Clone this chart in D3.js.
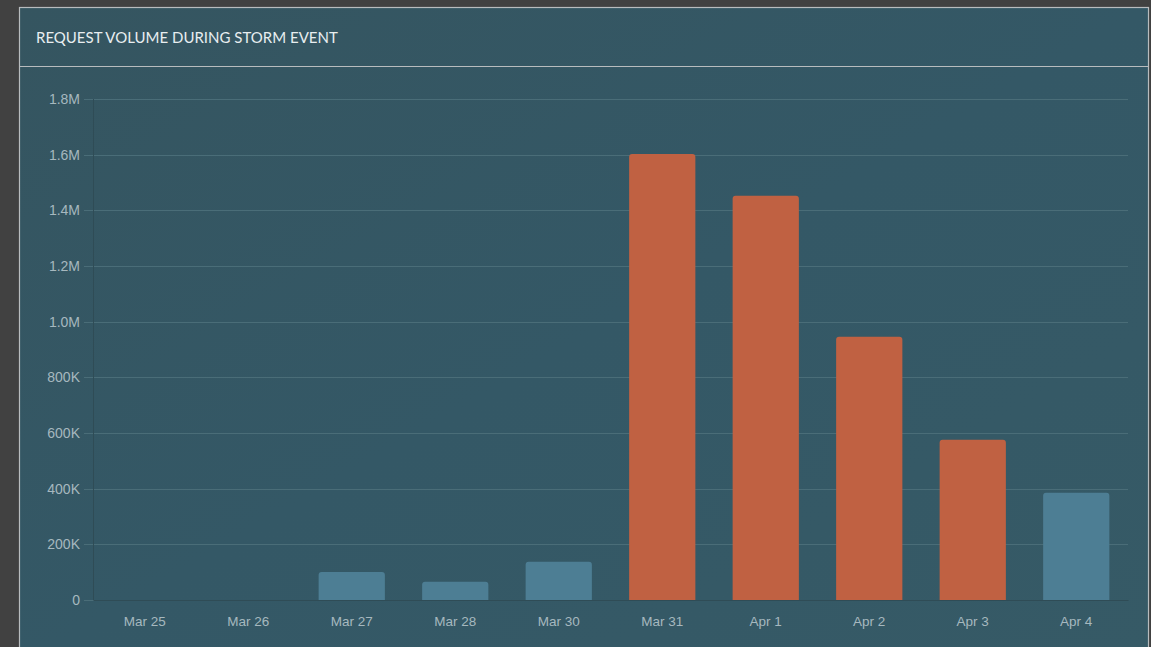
<!DOCTYPE html>
<html>
<head>
<meta charset="utf-8">
<script src="https://cdn.jsdelivr.net/npm/d3@7"></script>
<style>
html,body{margin:0;padding:0;background:#414141;overflow:hidden;}
svg{display:block;}
</style>
</head>
<body>
<svg id="chart" width="1151" height="647"></svg>
<script>
const categories = ["Mar 25","Mar 26","Mar 27","Mar 28","Mar 30","Mar 31","Apr 1","Apr 2","Apr 3","Apr 4"];
const values = [0, 0, 101000, 66000, 137000, 1602000, 1452000, 946000, 576000, 385000];
const highlight = [false,false,false,false,false,true,true,true,true,false];
const yTicks = [0,200000,400000,600000,800000,1000000,1200000,1400000,1600000,1800000];
const yTickLabels = ["0","200K","400K","600K","800K","1.0M","1.2M","1.4M","1.6M","1.8M"];
const title = "REQUEST VOLUME DURING STORM EVENT";

(function(){
const svg = d3.select("#chart");
const defs = svg.append("defs");
const grad = defs.append("linearGradient").attr("id","bg").attr("x1","0").attr("y1","0").attr("x2","1").attr("y2","1");
grad.append("stop").attr("offset","0").attr("stop-color","#355560");
grad.append("stop").attr("offset","0.5").attr("stop-color","#345866");
grad.append("stop").attr("offset","1").attr("stop-color","#365a66");

// panel
svg.append("rect").attr("x",19.5).attr("y",7.5).attr("width",1129).attr("height",660)
  .attr("fill","url(#bg)").attr("stroke","#b8bcbe").attr("stroke-width",1.2);
svg.append("line").attr("x1",20).attr("x2",1148).attr("y1",66.5).attr("y2",66.5)
  .attr("stroke","#b8bcbe").attr("stroke-width",1.2);
svg.append("text").attr("x",36).attr("y",42.5).text(title)
  .attr("fill","#e8eef0").attr("font-family","Lato, 'Open Sans', sans-serif").attr("font-size",15);

const pLeft = 93, pRight = 1128, pTop = 99, pBottom = 600;
const x = d3.scaleBand().domain(categories).range([pLeft,pRight]).paddingInner(0.36).paddingOuter(0.18);
const y = d3.scaleLinear().domain([0,1800000]).range([pBottom,pTop]);

// grid
const gridColor = "#4a6d78";
svg.append("g").selectAll("line").data(yTicks).join("line")
  .attr("x1",pLeft-9).attr("x2",pRight)
  .attr("y1",d=>Math.round(y(d))+0.5).attr("y2",d=>Math.round(y(d))+0.5)
  .attr("stroke",gridColor).attr("stroke-width",1);

// y axis
const yAxis = d3.axisLeft(y).tickValues(yTicks).tickFormat((d,i)=>yTickLabels[i]).tickSize(0).tickPadding(13);
const yg = svg.append("g").attr("transform",`translate(${pLeft},0)`).call(yAxis);
yg.select(".domain").remove();
yg.selectAll("text").attr("fill","#a6b8bf").attr("font-family","'Liberation Sans', Arial, sans-serif").attr("font-size",14);
svg.append("line").attr("x1",pLeft+0.5).attr("x2",pLeft+0.5).attr("y1",pTop).attr("y2",pBottom)
  .attr("stroke","#2f4c56").attr("stroke-width",1);

// bars
const r = 3;
svg.append("g").selectAll("path").data(categories).join("path")
  .attr("d",(c,i)=>{
    const x0 = x(c), w = x.bandwidth(), y0 = y(values[i]), h = pBottom - y0;
    if (h <= 0) return "";
    const rr = Math.min(r,h);
    return `M${x0},${pBottom}V${y0+rr}Q${x0},${y0} ${x0+rr},${y0}H${x0+w-rr}Q${x0+w},${y0} ${x0+w},${y0+rr}V${pBottom}Z`;
  })
  .attr("fill",(c,i)=>highlight[i] ? "#c06142" : "#4d7e94");

// x axis
const xAxis = d3.axisBottom(x).tickSize(0).tickPadding(16);
const xg = svg.append("g").attr("transform",`translate(0,${pBottom})`).call(xAxis);
xg.select(".domain").attr("stroke","#2f4c56");
xg.selectAll("text").attr("fill","#a6b8bf").attr("font-family","'Liberation Sans', Arial, sans-serif").attr("font-size",13.5);
})();
</script>
</body>
</html>
